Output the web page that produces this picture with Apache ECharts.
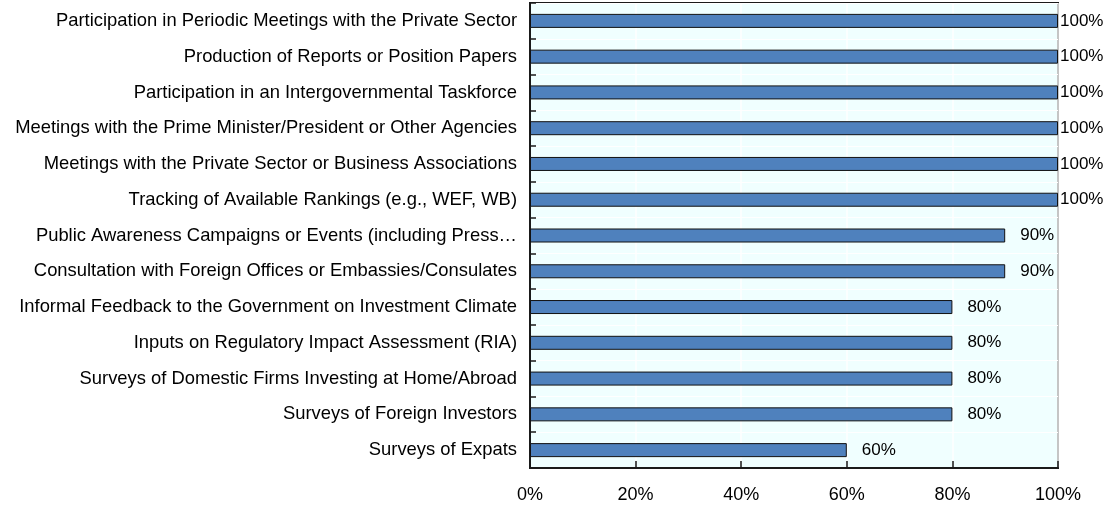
<!DOCTYPE html>
<html>
<head>
<meta charset="utf-8">
<script src="https://cdn.jsdelivr.net/npm/echarts@6/dist/echarts.min.js"></script>
<style>
  html, body { margin: 0; padding: 0; background: #fff; }
  #chart { width: 1112px; height: 511px; }
</style>
</head>
<body>
<div id="chart"></div>
<script>
// Activities carried out, share of respondents (%)
const categories = [
  'Participation in Periodic Meetings with the Private Sector',
  'Production of Reports or Position Papers',
  'Participation in an Intergovernmental Taskforce',
  'Meetings with the Prime Minister/President or Other Agencies',
  'Meetings with the Private Sector or Business Associations',
  'Tracking of Available Rankings (e.g., WEF, WB)',
  'Public Awareness Campaigns or Events (including Press\u2026',
  'Consultation with Foreign Offices or Embassies/Consulates',
  'Informal Feedback to the Government on Investment Climate',
  'Inputs on Regulatory Impact Assessment (RIA)',
  'Surveys of Domestic Firms Investing at Home/Abroad',
  'Surveys of Foreign Investors',
  'Surveys of Expats'
];
const values = [100, 100, 100, 100, 100, 100, 90, 90, 80, 80, 80, 80, 60];
const xTicks = [0, 20, 40, 60, 80, 100];

const font = '"Liberation Sans", Arial, sans-serif';

const chart = echarts.init(document.getElementById('chart'), null, { renderer: 'canvas' });

const barData = values.map(v => ({
  value: v,
  label: { distance: v >= 100 ? 2 : 15 }
}));

chart.setOption({
  animation: false,
  grid: {
    left: 530, right: 54, top: 3, bottom: 43,
    containLabel: false,
    outerBoundsMode: 'none',
    show: true,
    backgroundColor: '#F0FFFF',
    borderColor: '#1a1a1a',
    borderWidth: 2
  },
  xAxis: {
    type: 'value',
    min: xTicks[0],
    max: xTicks[xTicks.length - 1],
    interval: 20,
    axisLine: { show: true, lineStyle: { color: '#1a1a1a', width: 2 } },
    axisTick: { show: true, inside: true, length: 7, lineStyle: { color: '#1a1a1a', width: 1.5 } },
    splitLine: { show: true, lineStyle: { color: '#ffffff', width: 1.5 } },
    axisLabel: {
      formatter: v => v + '%',
      color: '#000', fontSize: 18, fontFamily: font, margin: 18
    }
  },
  yAxis: {
    type: 'category',
    data: categories,
    inverse: true,
    axisLine: { show: true, lineStyle: { color: '#1a1a1a', width: 2 } },
    axisTick: { show: true, inside: true, length: 6, alignWithLabel: false, lineStyle: { color: '#1a1a1a', width: 1.5 } },
    splitLine: { show: true, lineStyle: { color: '#ffffff', width: 1 } },
    axisLabel: {
      color: '#000', fontSize: 18.4, fontFamily: font, margin: 13
    }
  },
  series: [{
    type: 'bar',
    data: barData,
    barWidth: 14,
    itemStyle: { color: '#4F81BD', borderColor: '#111', borderWidth: 1 },
    label: {
      show: true,
      position: 'right',
      formatter: p => p.value + '%',
      color: '#000', fontSize: 17, fontFamily: font
    }
  }]
});
</script>
</body>
</html>
